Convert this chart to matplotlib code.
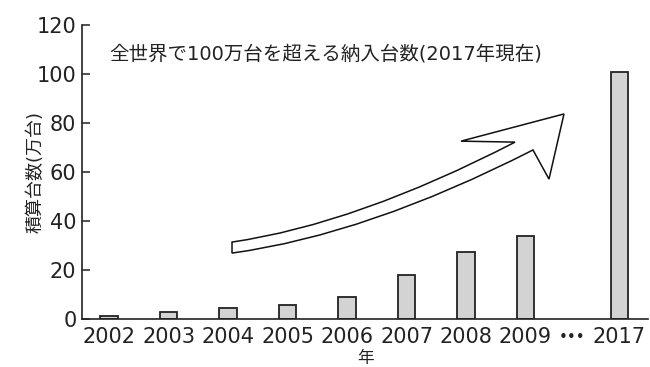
import matplotlib
matplotlib.use("Agg")
import matplotlib.pyplot as plt
from matplotlib.path import Path
from matplotlib.patches import PathPatch

plt.rcParams['font.family'] = ['DejaVu Sans', 'Noto Sans CJK JP']

# cumulative units installed (10k units)
years = ['2002', '2003', '2004', '2005', '2006', '2007', '2008', '2009', '2017']
units = [1.2, 2.9, 4.5, 5.7, 9.1, 17.9, 27.2, 34.0, 101.0]
positions = [0, 1, 2, 3, 4, 5, 6, 7, 8.58]
gap_pos = 7.79
y_ticks = [0, 20, 40, 60, 80, 100, 120]

TEXT = '#222222'

fig = plt.figure(figsize=(6.5, 3.67), dpi=100)
ax = fig.add_axes([0.1262, 0.1308, 0.8708, 0.801])

ax.bar(positions, units, width=0.29, color='#d3d3d3',
       edgecolor='#222222', linewidth=1.3, zorder=2)

ax.set_xlim(-0.454, 9.06)
ax.set_ylim(0, 120)
ax.set_yticks(y_ticks)
ax.set_xticks(positions)
ax.set_xticklabels(years)

ax.tick_params(axis='y', direction='in', length=6, width=1.1,
               labelsize=15, pad=4, colors=TEXT)
ax.tick_params(axis='x', length=0, labelsize=15, pad=6, colors=TEXT)

# ellipsis marking the skipped years
ax.text(gap_pos, -0.062, '•••', fontsize=11, color=TEXT, ha='center',
        va='center', transform=ax.get_xaxis_transform())

for side in ('top', 'right'):
    ax.spines[side].set_visible(False)
for side in ('left', 'bottom'):
    ax.spines[side].set_linewidth(1.2)
    ax.spines[side].set_color('#222222')

ax.set_ylabel('積算台数(万台)', fontsize=13, color=TEXT)
ax.yaxis.set_label_coords(-0.066, 0.5)
ax.set_xlabel('年', fontsize=12, color=TEXT, labelpad=1)

ax.text(0.0, 108.2, '全世界で100万台を超える納入台数(2017年現在)',
        fontsize=14, color=TEXT, va='center', ha='left')

# hollow curved arrow drawn as a closed outline
verts = [(2.067, 31.4), (4.16, 38.8), (6.824, 72.2),
         (5.916, 72.6), (7.647, 83.7), (7.395, 57.1), (7.126, 69.0),
         (4.345, 34.5), (2.067, 26.9), (2.067, 31.4)]
codes = [Path.MOVETO, Path.CURVE3, Path.CURVE3,
         Path.LINETO, Path.LINETO, Path.LINETO, Path.LINETO,
         Path.CURVE3, Path.CURVE3, Path.CLOSEPOLY]
ax.add_patch(PathPatch(Path(verts, codes), facecolor='white',
                       edgecolor='#111111', linewidth=1.1, zorder=3))

fig.savefig('out.png', dpi=100)
